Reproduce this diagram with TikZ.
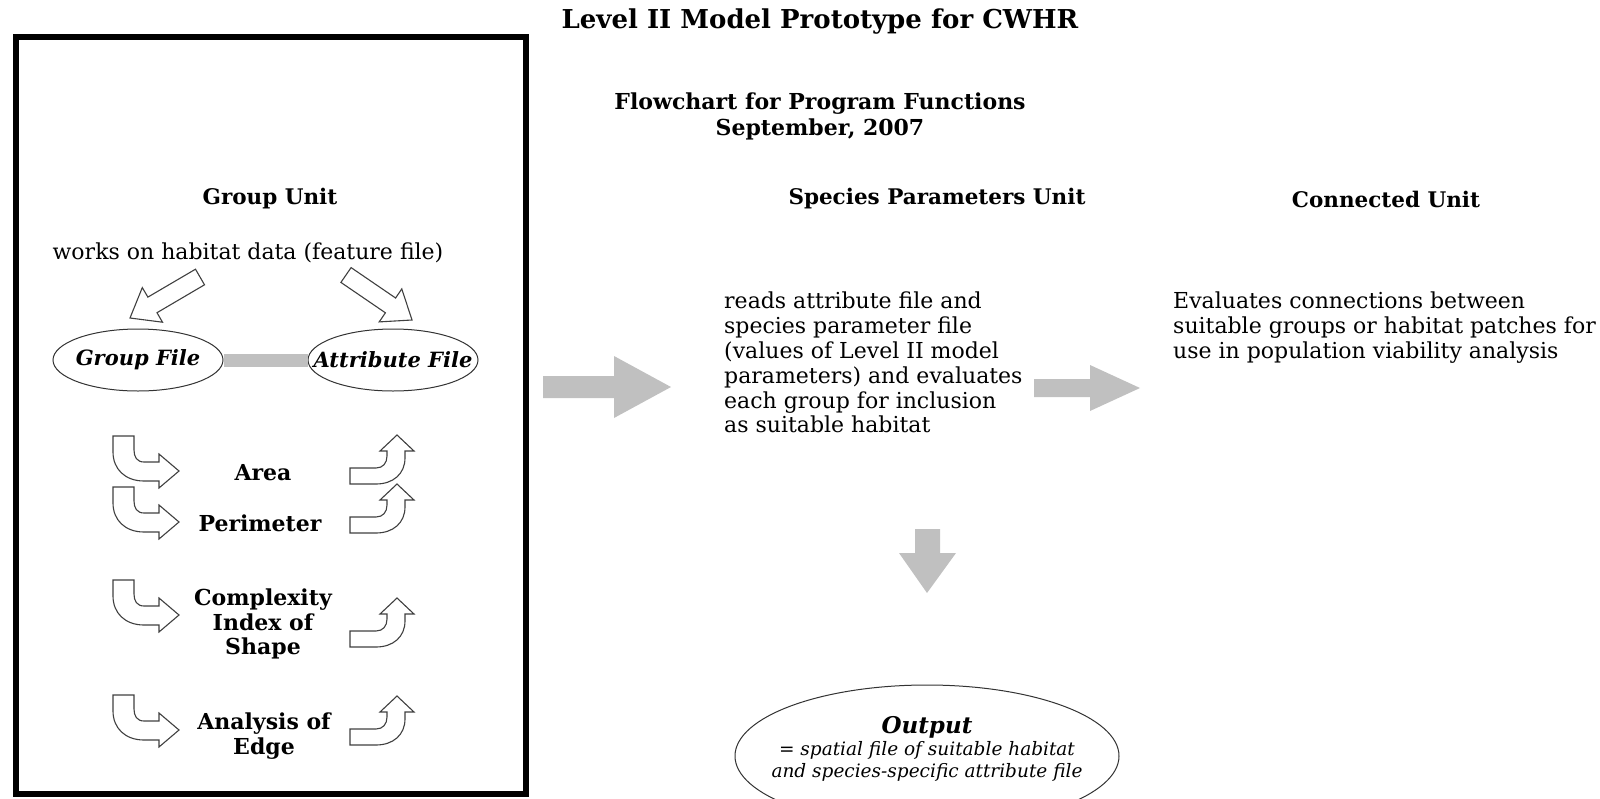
\documentclass[tikz,border=0pt]{standalone}
\usepackage{fontspec}
\setmainfont{DejaVu Serif}
\usetikzlibrary{shapes.geometric}
\definecolor{arrowgrey}{RGB}{192,192,192}
\tikzset{
FRAME/.style ={draw=black,line width=6pt},
HOLLOW/.style ={draw=black!75,fill=white,line width=1.1pt,line join=miter},
GREYARROW/.style ={draw=none,fill=arrowgrey},
HEAD/.style ={font=\fontsize{21.5}{26}\selectfont\bfseries,inner sep=0pt,align=center},
BODY/.style ={font=\fontsize{22}{24.8}\selectfont,inner sep=0pt,align=left},
STEP/.style ={font=\fontsize{22}{24.5}\selectfont\bfseries,inner sep=0pt,align=center},
FILE/.style ={draw=black!80,line width=1pt,ellipse,inner sep=0pt,minimum width=170pt,minimum height=62pt},
FILETEXT/.style ={font=\fontsize{21}{24}\selectfont\bfseries\itshape,inner sep=0pt},
}

\begin{document}
\begin{tikzpicture}[x=1pt,y=-1pt] %CWHR flowchart
	\useasboundingbox (0,0) rectangle (1600,798);
	\clip (0,0) rectangle (1600,798);
	% titles
	\node[HEAD,font=\fontsize{26}{26}\selectfont\bfseries] (title) at (820,22) {Level II Model Prototype for CWHR};
	\node[HEAD,font=\fontsize{22}{26}\selectfont\bfseries] (sub) at (820,116) {Flowchart for Program Functions\\September, 2007};
	% group unit
	\path[FRAME] (16,37) rectangle (526,794);
	\node[HEAD] (gunit) at (270,199) {Group Unit};
	\node[BODY] (gdata) at (248,253) {works on habitat data (feature file)};
	\path[HOLLOW] (195.5,269.2) -- (147.9,297.1) -- (142.3,287.6) -- (130,318) -- (162.5,322.2) -- (157.0,312.7) -- (204.5,284.8) -- cycle;
	\path[HOLLOW] (351.1,267.6) -- (395.6,298.0) -- (401.8,288.9) -- (412,320) -- (379.2,321.9) -- (385.4,312.8) -- (340.9,282.4) -- cycle;
	\node[FILE,label={[FILETEXT]center:Group File}] (gfile) at (138,360) {};
	\node[FILE,label={[FILETEXT]center:Attribute File}] (afile) at (393,360) {};
	\draw[arrowgrey,line width=13pt] (gfile) -- (afile);
	\foreach \t in {436,487,580,695} {
		\path[HOLLOW,shift={(113,\t)}] (0,0) -- (21,0) -- (21,14) .. controls (21,21) and (24,26) .. (31,26) -- (46,26) -- (46,18) -- (66,35) -- (46,52) -- (46,45) -- (31,45) .. controls (12,45) and (0,33) .. (0,16) -- cycle;
	}
	\foreach \b in {484,533,647,745} {
		\path[HOLLOW,shift={(350,\b)}] (0,0) -- (0,-16) -- (26,-16) .. controls (33,-16) and (37,-21) .. (37,-28) -- (37,-33) -- (30,-33) -- (47,-49) -- (64,-33) -- (55,-33) -- (55,-26) .. controls (55,-10) and (43,0) .. (26,0) -- cycle;
	}
	\node[STEP] (area) at (263,473) {Area};
	\node[STEP] (perim) at (260,523) {Perimeter};
	\node[STEP] (cplx) at (263,624) {Complexity\\Index of\\Shape};
	\node[STEP] (edge) at (264,736) {Analysis of\\Edge};
	% species parameters unit
	\path[GREYARROW] (543,376) -- (614,376) -- (614,356) -- (671,387) -- (614,418) -- (614,398) -- (543,398) -- cycle;
	\node[HEAD] (sunit) at (937,199) {Species Parameters Unit};
	\node[BODY,anchor=north west] (stext) at (724,292) {reads attribute file and\\species parameter file\\(values of Level II model\\parameters) and evaluates\\each group for inclusion\\as suitable habitat};
	\path[GREYARROW] (1034,379) -- (1090,379) -- (1090,365) -- (1140,388) -- (1090,411) -- (1090,397) -- (1034,397) -- cycle;
	\path[GREYARROW] (915,529) -- (940,529) -- (940,553) -- (956,553) -- (927,593) -- (899,553) -- (915,553) -- cycle;
	% connected unit
	\node[HEAD] (cunit) at (1386,199) {Connected Unit};
	\node[BODY,anchor=north west] (ctext) at (1173,292) {Evaluates connections between\\suitable groups or habitat patches for\\use in population viability analysis};
	% output
	\node[draw=black!80,line width=1pt,ellipse,minimum width=384pt,minimum height=142pt] (out) at (927,756) {};
	\node[font=\fontsize{18.5}{22}\selectfont\itshape,align=center,inner sep=0pt] (outtxt) at (927,749) {\textbf{\fontsize{23}{22}\selectfont Output}\\= spatial file of suitable habitat\\and species-specific attribute file};
\end{tikzpicture}
\end{document}
